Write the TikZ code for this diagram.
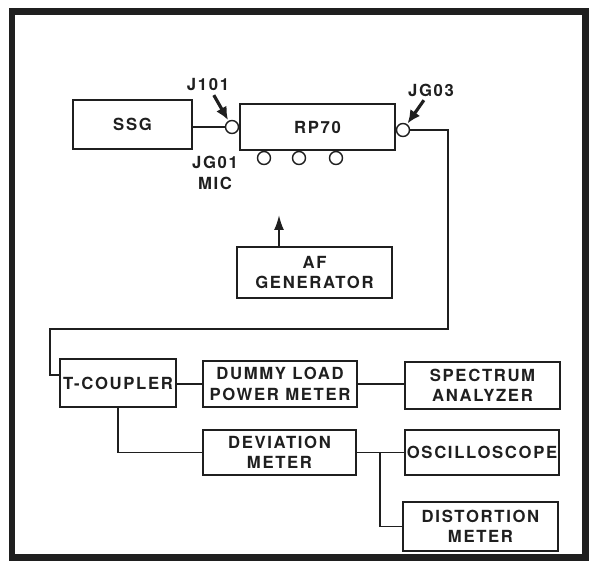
\documentclass[tikz,border=0pt]{standalone}
\usepackage{fontspec}
\newfontfamily\diagfont[LetterSpace=10]{TeX Gyre Heros}
\usetikzlibrary{arrows.meta}

\tikzset{
  bloque/.style={draw, inner sep=0pt, align=center, minimum width=3.1cm, minimum height=0.94cm,
    font=\diagfont\bfseries\fontsize{9.5}{11.5}\selectfont},
  jack/.style={circle, draw, fill=white, inner sep=0pt, minimum size=0.26cm},
  etiqueta/.style={inner sep=1pt, align=center, font=\diagfont\bfseries\fontsize{9.5}{12}\selectfont},
  puntero/.style={-{Latex[length=2.6mm,width=2.4mm]}, line width=1.8pt, shorten <=1pt, shorten >=0.5pt},
}

\begin{document}
\begin{tikzpicture}[x=0.02cm, y=-0.02cm, >={Latex[length=3mm,width=2mm]}, line width=0.8pt, color=black!88]
  \useasboundingbox (0,0) rectangle (594,564);
  % marco
  \draw[line width=0.14cm] (12,12) rectangle (585,557);
  % transmisor y generadores
  \node[bloque, minimum width=2.38cm, minimum height=0.98cm] (ssg) at (132.5,124.5) {SSG};
  \node[bloque, minimum height=0.92cm] (rp) at (317.5,127) {RP70};
  \node[bloque, minimum height=1.02cm] (afgen) at (314.5,272.5) {AF\\GENERATOR};
  % conectores del RP70
  \node[jack] (jin) at (232,127) {};
  \node[jack] (jout) at (403,130) {};
  \node[jack] (mic1) at (264,158) {};
  \node[jack] (mic2) at (299,158) {};
  \node[jack] (mic3) at (336,158) {};
  \node[etiqueta] (jinlbl) at (208,85) {J101};
  \node[etiqueta] (joutlbl) at (431,90) {JG03};
  \node[etiqueta] (miclbl) at (215,173) {JG01\\MIC};
  \draw[puntero] (jinlbl) -- (jin);
  \draw[puntero] (joutlbl) -- (jout);
  % instrumentos de medida
  \node[bloque, minimum width=2.32cm, minimum height=0.96cm] (tcoup) at (118,383) {T-COUPLER};
  \node[bloque, minimum width=3.08cm, minimum height=0.92cm] (dummy) at (280,384) {DUMMY LOAD\\POWER METER};
  \node[bloque] (spec) at (482.5,385.5) {SPECTRUM\\ANALYZER};
  \node[bloque, minimum width=3.06cm, minimum height=0.9cm] (devm) at (279.5,452.5) {DEVIATION\\METER};
  \node[bloque, minimum width=3.08cm, minimum height=0.9cm] (osc) at (482,452.5) {OSCILLOSCOPE};
  \node[bloque, minimum height=0.98cm] (dist) at (480.5,526.5) {DISTORTION\\METER};
  % cableado
  \coordinate (bendR) at (448,329);
  \coordinate (bendL) at (50,329);
  \coordinate (aftip) at (279,215);
  \coordinate (split) at (380,452.5);
  \draw (ssg.east |- jin) -- (jin);
  \draw (jout.east) -| (bendR) -- (bendL) |- ([yshift=0.16cm]tcoup.west);
  \draw[->, line width=1.1pt] (afgen.north -| aftip) -- (aftip);
  \draw (tcoup.east |- dummy) -- (dummy.west);
  \draw (dummy.east) -- (spec.west |- dummy.east);
  \draw (tcoup.south) |- (devm.west);
  \draw (devm.east) -- (osc.west);
  \draw (split) |- (dist.west);
\end{tikzpicture}
\end{document}
